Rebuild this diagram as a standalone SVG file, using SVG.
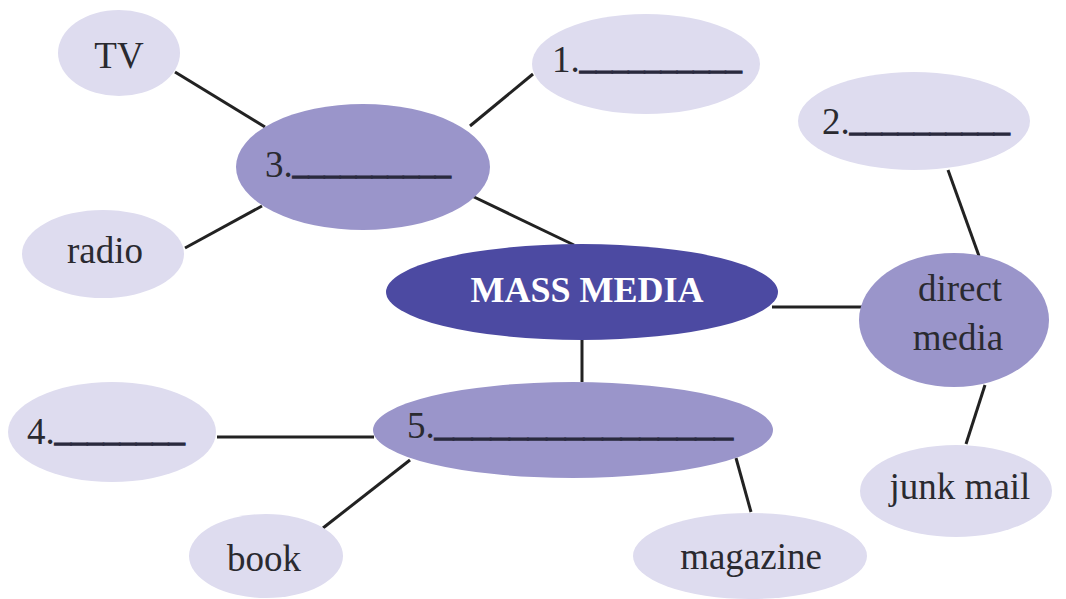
<svg xmlns="http://www.w3.org/2000/svg" width="1066" height="599" viewBox="0 0 1066 599">
<style>
.light{fill:#dedcef}
.mid{fill:#9a95ca}
.dark{fill:#4c4aa2}
.t{font-family:"Liberation Serif","DejaVu Serif","Times New Roman",serif;font-size:37px;fill:#2a2a30}
.c{text-anchor:middle}
.u{stroke:#2a2a40;stroke-width:1.4px}
.title{font-family:"Liberation Serif","DejaVu Serif","Times New Roman",serif;font-size:36px;font-weight:bold;fill:#ffffff;text-anchor:middle}
.conn line{stroke:#222222;stroke-width:3;stroke-linecap:butt}
</style>
<rect width="1066" height="599" fill="#ffffff"/>
<g class="conn" id="connectors">
<line x1="175" y1="72" x2="265" y2="127"/>
<line x1="185" y1="248" x2="262" y2="206"/>
<line x1="472" y1="196" x2="574" y2="245"/>
<line x1="470" y1="126" x2="533" y2="74"/>
<line x1="948" y1="170" x2="979" y2="256"/>
<line x1="772" y1="307" x2="862" y2="307"/>
<line x1="582" y1="340" x2="582" y2="382"/>
<line x1="217" y1="437" x2="374" y2="437"/>
<line x1="323" y1="528" x2="410" y2="460"/>
<line x1="736" y1="458" x2="751" y2="512"/>
<line x1="985" y1="385" x2="966" y2="444"/>
</g>
<g id="node-tv"><ellipse class="light" cx="119" cy="53" rx="61" ry="43"/><text class="t c" x="119" y="68">TV</text></g>
<g id="node-radio"><ellipse class="light" cx="103" cy="254" rx="81" ry="44"/><text class="t c" x="105" y="263">radio</text></g>
<g id="node-3"><ellipse class="mid" cx="363" cy="167" rx="127" ry="63"/><text class="t" x="265" y="177">3.<tspan class="u" dy="-4" textLength="158" lengthAdjust="spacingAndGlyphs">__________</tspan></text></g>
<g id="node-1"><ellipse class="light" cx="646" cy="64" rx="114" ry="50"/><text class="t" x="552" y="72">1.<tspan class="u" dy="-4" textLength="162" lengthAdjust="spacingAndGlyphs">__________</tspan></text></g>
<g id="node-2"><ellipse class="light" cx="914" cy="121" rx="116" ry="49"/><text class="t" x="822" y="134">2.<tspan class="u" dy="-4" textLength="160" lengthAdjust="spacingAndGlyphs">__________</tspan></text></g>
<g id="node-mass-media"><ellipse class="dark" cx="582" cy="292" rx="196" ry="48"/><text class="title" x="587" y="302">MASS MEDIA</text></g>
<g id="node-direct-media"><ellipse class="mid" cx="954" cy="320" rx="95" ry="67"/><text class="t c" x="960" y="301">direct</text><text class="t c" x="958" y="350">media</text></g>
<g id="node-junk-mail"><ellipse class="light" cx="956" cy="491" rx="96" ry="46"/><text class="t c" x="960" y="499">junk mail</text></g>
<g id="node-5"><ellipse class="mid" cx="573" cy="430" rx="200" ry="48"/><text class="t" x="407" y="438">5.<tspan class="u" dy="-3" textLength="298" lengthAdjust="spacingAndGlyphs">________________</tspan></text></g>
<g id="node-4"><ellipse class="light" cx="112" cy="432" rx="104" ry="50"/><text class="t" x="27" y="444">4.<tspan class="u" dy="-4" textLength="130" lengthAdjust="spacingAndGlyphs">________</tspan></text></g>
<g id="node-book"><ellipse class="light" cx="266" cy="556" rx="77" ry="42"/><text class="t c" x="264" y="571">book</text></g>
<g id="node-magazine"><ellipse class="light" cx="750" cy="556" rx="117" ry="43"/><text class="t c" x="751" y="569">magazine</text></g>
</svg>
